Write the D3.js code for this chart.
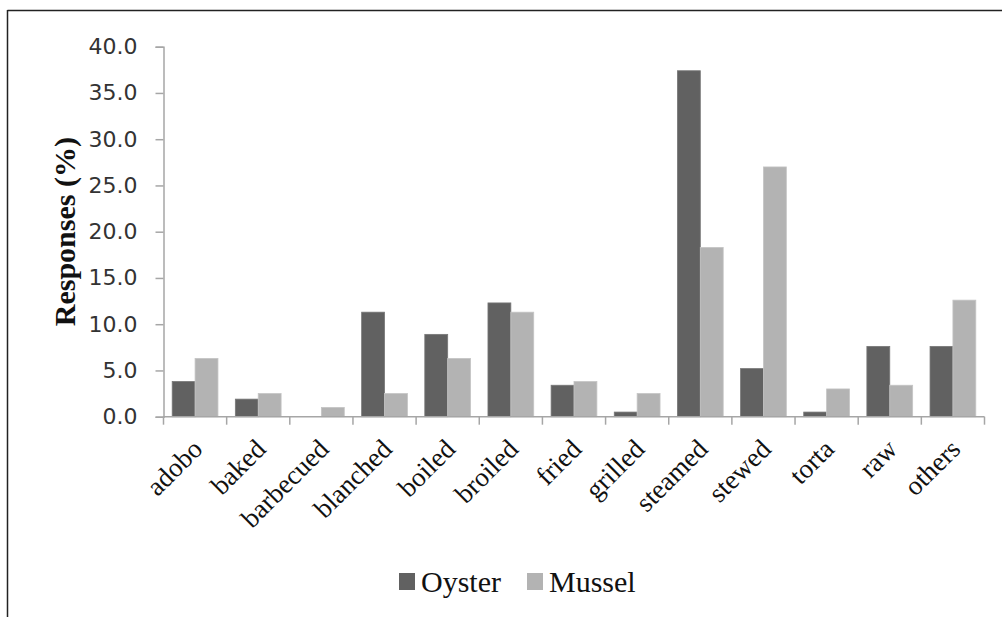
<!DOCTYPE html>
<html><head><meta charset="utf-8">
<script src="https://cdn.jsdelivr.net/npm/d3@7"></script>
<style>body{margin:0;background:#fff}svg{display:block}</style>
</head><body>
<svg id="c" width="1002" height="617"></svg>
<script>
const categories = ["adobo","baked","barbecued","blanched","boiled","broiled","fried","grilled","steamed","stewed","torta","raw","others"];
const oyster = [3.8,1.9,0.0,11.3,8.9,12.3,3.4,0.5,37.4,5.2,0.5,7.6,7.6];
const mussel = [6.3,2.5,1.0,2.5,6.3,11.3,3.8,2.5,18.3,27.0,3.0,3.4,12.6];
const seriesNames = ["Oyster","Mussel"];
const colors = ["#616161","#b3b3b3"];
const yTicks = [0,5,10,15,20,25,30,35,40];

const svg = d3.select("#c");
// outer frame
svg.append("line").attr("x1",7.5).attr("x2",1002).attr("y1",10.5).attr("y2",10.5).attr("stroke","#222").attr("stroke-width",1.3);
svg.append("line").attr("x1",7.5).attr("x2",7.5).attr("y1",10).attr("y2",617).attr("stroke","#222").attr("stroke-width",1.5);

const x0 = 163.5, x1 = 984.5, yBase = 416.7, yTop = 46.7;
const x = d3.scaleBand().domain(categories).range([x0,x1]).paddingInner(0).paddingOuter(0);
const xs = d3.scaleBand().domain(seriesNames).range([0,x.bandwidth()]).paddingInner(0).paddingOuter(0.38);
const y = d3.scaleLinear().domain([0,40]).range([yBase,yTop]);

const data = categories.map((c,i)=>({cat:c, vals:[oyster[i],mussel[i]]}));
const g = svg.append("g");
g.selectAll("g.grp").data(data).join("g").attr("class","grp")
  .attr("transform",d=>`translate(${x(d.cat)},0)`)
  .selectAll("rect").data(d=>d.vals.map((v,j)=>({v,j})))
  .join("rect")
  .attr("x",d=>xs(seriesNames[d.j]))
  .attr("width",xs.bandwidth())
  .attr("y",d=>y(d.v))
  .attr("height",d=>yBase-y(d.v))
  .attr("fill",d=>colors[d.j])
  .attr("stroke",d=>d.v>0?(d.j===0?"#777":"#c4c4c4"):"none")
  .attr("stroke-width",0.8);

// y axis
const yAxis = d3.axisLeft(y).tickValues(yTicks).tickFormat(d3.format(".1f")).tickSize(8).tickPadding(18);
const ya = svg.append("g").attr("transform",`translate(${x0},0)`).call(yAxis);
ya.select(".domain").attr("stroke","#a6a6a6").attr("stroke-width",1.5);
ya.selectAll(".tick line").attr("stroke","#a6a6a6").attr("stroke-width",1.5);
ya.selectAll(".tick text").attr("fill","#333").style("font-family","'DejaVu Sans', sans-serif").style("font-size","22px");

// x axis
const xa = svg.append("g").attr("transform",`translate(0,${yBase})`);
xa.append("line").attr("x1",x0).attr("x2",x1).attr("y1",0).attr("y2",0).attr("stroke","#a6a6a6").attr("stroke-width",1.5);
const bounds = categories.map(c=>x(c)).concat([x1]);
xa.selectAll("line.tk").data(bounds).join("line").attr("class","tk")
  .attr("x1",d=>d).attr("x2",d=>d).attr("y1",0).attr("y2",8).attr("stroke","#a6a6a6").attr("stroke-width",1.5);
xa.selectAll("text").data(categories).join("text")
  .attr("transform",d=>`translate(${x(d)+x.bandwidth()/2+9},${34}) rotate(-45)`)
  .attr("text-anchor","end")
  .style("font-family","'Liberation Serif', serif").style("font-size","27px").attr("fill","#111")
  .text(d=>d);

// y title
svg.append("text").attr("transform",`translate(75,${(yBase+yTop)/2}) rotate(-90)`)
  .attr("text-anchor","middle")
  .style("font-family","'Liberation Serif', serif").style("font-size","30px").style("font-weight","bold").attr("fill","#111")
  .text("Responses (%)");

// legend
const legX = [399,527], legT = [421,549];
seriesNames.forEach((s,i)=>{
  svg.append("rect").attr("x",legX[i]).attr("y",573).attr("width",16).attr("height",17).attr("fill",colors[i]);
  svg.append("text").attr("x",legT[i]).attr("y",592).style("font-family","'Liberation Serif', serif").style("font-size","30px").attr("fill","#111").text(s);
});
</script>
</body></html>
